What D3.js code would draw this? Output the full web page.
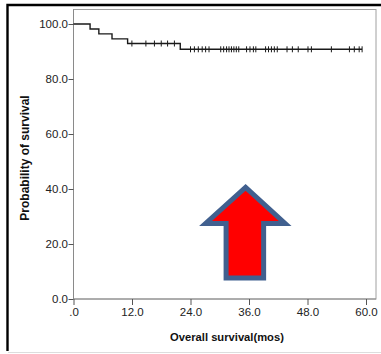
<!DOCTYPE html>
<html><head><meta charset="utf-8">
<script src="https://cdn.jsdelivr.net/npm/d3@7"></script>
<style>
html,body{margin:0;padding:0;background:#fff;}
svg{display:block;font-family:"Liberation Sans",Arial,sans-serif;}
</style></head>
<body>
<svg id="chart" width="381" height="354"></svg>
<script>
// Kaplan-Meier steps (months, survival %)
const eventTimes = [0, 3.4, 5.2, 7.9, 11.1, 21.9];
const survival   = [100.0, 98.2, 96.4, 94.6, 92.9, 90.8];
const endTime = 59.2;
// censored observations (months)
const censorTimes = [11.98, 14.85, 16.6, 18.0, 19.3, 20.7,
  24.0, 24.8, 25.6, 26.4, 27.1, 27.8,
  30.2, 30.8, 31.4, 31.9, 32.4, 32.9, 33.4, 33.9,
  35.5, 36.2, 36.9, 37.4,
  39.4, 40.0, 40.6, 41.2, 41.8,
  43.8, 44.9, 46.1, 48.1, 48.8, 52.9, 56.6, 57.6, 58.6, 59.2];
const xTicks = [0, 12, 24, 36, 48, 60];
const yTicks = [0, 20, 40, 60, 80, 100];
const xTitle = "Overall survival(mos)";
const yTitle = "Probability of survival";
// annotation arrow in data units [month, %]
const arrowPts = [[35.3,40.6],[43.4,27.5],[39.0,27.5],[39.0,7.6],[31.3,7.6],[31.3,27.5],[27.1,27.5]];

const svg = d3.select("#chart");
const x = d3.scaleLinear().domain([0, 60]).range([73.5, 366]);
const y = d3.scaleLinear().domain([0, 100]).range([299, 24]);

// outer black frame (left + top)
svg.append("path").attr("d","M7.5,351 L7.5,5 L381,5").attr("fill","none")
  .attr("stroke","#000").attr("stroke-width",2.4);
svg.append("line").attr("x1",8).attr("x2",381).attr("y1",352.5).attr("y2",352.5)
  .attr("stroke","#ddd").attr("stroke-width",1);

// plot frame
const frameTop = 9.5, frameRight = 376;
svg.append("rect").attr("x", x(0)).attr("y", frameTop)
  .attr("width", frameRight - x(0)).attr("height", y(0) - frameTop)
  .attr("fill","none").attr("stroke","#a0a0a0").attr("stroke-width",1);

// axes
const yAxis = d3.axisLeft(y).tickValues(yTicks).tickSize(5).tickSizeOuter(0)
  .tickFormat(d => d3.format(".1f")(d));
const gy = svg.append("g").attr("transform",`translate(${x(0)},0)`).call(yAxis);
const xAxis = d3.axisBottom(x).tickValues(xTicks).tickSize(6).tickSizeOuter(0)
  .tickFormat(d => d === 0 ? ".0" : d3.format(".1f")(d));
const gx = svg.append("g").attr("transform",`translate(0,${y(0)})`).call(xAxis);
[gx, gy].forEach(g => {
  g.select(".domain").attr("stroke","#8a8a8a");
  g.selectAll(".tick line").attr("stroke","#555");
  g.selectAll(".tick text").attr("fill","#222").attr("font-size",11.5)
    .attr("font-family","'Liberation Sans',Arial,sans-serif");
});
gy.selectAll(".tick text").attr("x",-5.5);
gx.selectAll(".tick text").attr("y",9);
gy.select(".domain").attr("d", `M0,${frameTop}V${y(0)}`);
gx.select(".domain").attr("d", `M${x(0)},0H${frameRight}`);

// titles
svg.append("text").attr("x", 227).attr("y", 341).attr("text-anchor","middle")
  .attr("font-weight","bold").attr("font-size",11.2).attr("fill","#111").text(xTitle);
svg.append("text").attr("transform","translate(29,158) rotate(-90)").attr("text-anchor","middle")
  .attr("font-weight","bold").attr("font-size",12).attr("fill","#111").text(yTitle);

// survival curve
const pts = eventTimes.map((t,i)=>[t, survival[i]]);
pts.push([endTime, survival[survival.length-1]]);
const line = d3.line().x(d=>x(d[0])).y(d=>y(d[1])).curve(d3.curveStepAfter);
svg.append("path").datum(pts).attr("d", line).attr("fill","none")
  .attr("stroke","#1a1a1a").attr("stroke-width",1.4);

// censor marks
function survAt(t){ let s = survival[0]; eventTimes.forEach((e,i)=>{ if (t >= e) s = survival[i]; }); return s; }
svg.append("g").selectAll("line").data(censorTimes).join("line")
  .attr("x1", d=>x(d)).attr("x2", d=>x(d))
  .attr("y1", d=>y(survAt(d))-3).attr("y2", d=>y(survAt(d))+3)
  .attr("stroke","#1a1a1a").attr("stroke-width",1);

// arrow annotation
svg.append("polygon").attr("points", arrowPts.map(p=>[x(p[0]), y(p[1])].join(",")).join(" "))
  .attr("fill","#ff0000").attr("stroke","#41608f").attr("stroke-width",5)
  .attr("stroke-linejoin","miter");
</script>
</body></html>
